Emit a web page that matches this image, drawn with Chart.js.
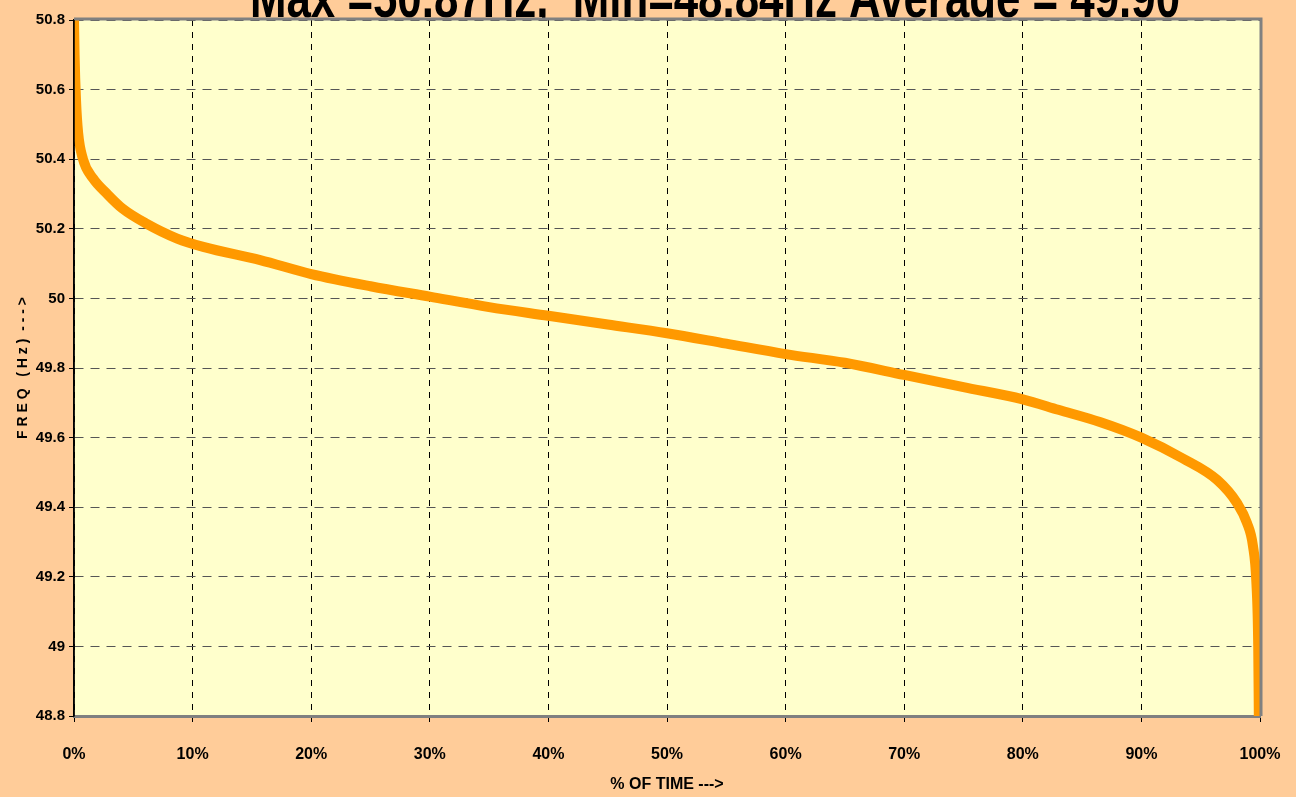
<!DOCTYPE html>
<html>
<head>
<meta charset="utf-8">
<script src="https://cdn.jsdelivr.net/npm/chart.js@4/dist/chart.umd.min.js"></script>
<style>
  html, body { margin: 0; padding: 0; background: #FFCC99; }
  canvas { display: block; }
</style>
</head>
<body>
<canvas id="graficoFreq" width="1296" height="797"></canvas>
<script>
// dados (curva de duração da frequência)
const tempoPct = [0, 0.05, 0.17, 0.35, 0.76, 1.6, 2.8, 4.1, 6.1, 8.7, 10.9, 15.7, 20, 25, 30, 35, 40,
  45, 50, 55, 60, 65, 70, 75, 80, 83, 86.5, 90, 93.5, 96.4, 98.1, 98.9, 99.4, 99.7, 99.85, 99.9];
const freqHz = [50.8, 50.7, 50.57, 50.475, 50.4, 50.345, 50.3, 50.258, 50.215, 50.172, 50.148, 50.11, 50.07, 50.035, 50.005, 49.975, 49.95,
  49.925, 49.9, 49.87, 49.84, 49.815, 49.78, 49.745, 49.71, 49.68, 49.645, 49.6, 49.54, 49.478, 49.41, 49.355, 49.29, 49.18, 49.0, 48.8];
const ticksY = [48.8, 49, 49.2, 49.4, 49.6, 49.8, 50, 50.2, 50.4, 50.6, 50.8];
const ticksX = [0, 10, 20, 30, 40, 50, 60, 70, 80, 90, 100];
const titulo = "Max =50.87Hz,  Min=48.84Hz Average = 49.90";

const fonte = "'Liberation Sans', Arial, sans-serif";

// título, fundo e moldura da área do gráfico (estilo Excel)
const areaPlot = {
  id: "areaPlot",
  beforeDraw(chart) {
    const { ctx, chartArea: a } = chart;
    ctx.save();
    // título (cortado no topo e tapado pela área, como no original)
    ctx.fillStyle = "#000";
    ctx.font = "bold 58px " + fonte;
    ctx.textAlign = "center";
    ctx.textBaseline = "alphabetic";
    const w = ctx.measureText(titulo).width;
    ctx.translate(715, 17);
    ctx.scale(930 / w, 1);
    ctx.fillText(titulo, 0, 0);
    ctx.restore();
    ctx.save();
    ctx.fillStyle = "#FFFFCC";
    ctx.fillRect(a.left, a.top, a.right - a.left, a.bottom - a.top);
    ctx.restore();
  },
  afterDraw(chart) {
    const { ctx, chartArea: a } = chart;
    ctx.save();
    ctx.setLineDash([]);
    ctx.strokeStyle = "#808080";
    ctx.lineWidth = 3;
    ctx.beginPath();
    ctx.moveTo(a.left, a.top - 1);
    ctx.lineTo(a.right + 1, a.top - 1);
    ctx.lineTo(a.right + 1, a.bottom);
    ctx.stroke();
    ctx.strokeStyle = "#000";
    ctx.lineWidth = 1.5;
    ctx.beginPath();
    ctx.moveTo(a.left, a.top);
    ctx.lineTo(a.left, a.bottom);
    ctx.stroke();
    ctx.restore();
  }
};

const ctx = document.getElementById("graficoFreq").getContext("2d");

new Chart(ctx, {
  type: "line",
  data: {
    datasets: [
      {
        data: tempoPct.map((t, i) => ({ x: t, y: freqHz[i] })),
        borderColor: "#FF9900",
        borderWidth: 10,
        pointRadius: 0,
        fill: false,
        cubicInterpolationMode: "monotone",
      },
    ],
  },
  options: {
    responsive: false,
    animation: false,
    layout: { padding: { left: 10, right: 36, top: 20, bottom: 0 } },
    plugins: {
      legend: { display: false },
      tooltip: { enabled: false },
    },
    scales: {
      x: {
        type: "linear",
        min: 0,
        max: 100,
        afterBuildTicks: (s) => { s.ticks = ticksX.map((v) => ({ value: v })); },
        afterFit: (s) => { s.height = 81; s.paddingLeft = 0; s.paddingRight = 0; },
        ticks: {
          padding: 23,
          color: "#000",
          font: { family: fonte, size: 16, weight: "bold" },
          callback: (v) => v + "%",
        },
        grid: {
          color: "#000",
          lineWidth: 1,
          tickLength: 6,
          tickColor: "#000",
        },
        border: { display: true, color: "#808080", width: 3, dash: [6, 6] },
        title: {
          display: true,
          text: "% OF TIME --->",
          color: "#000",
          font: { family: fonte, size: 16, weight: "bold" },
          padding: { top: 0, bottom: 3 },
        },
      },
      y: {
        min: 48.8,
        max: 50.8,
        afterBuildTicks: (s) => { s.ticks = ticksY.map((v) => ({ value: v })); },
        afterFit: (s) => { s.width = 64; },
        ticks: {
          padding: 4,
          color: "#000",
          font: { family: fonte, size: 15, weight: "bold" },
          callback: (v) => parseFloat(Number(v).toFixed(1)).toString(),
        },
        grid: {
          color: "#555",
          lineWidth: 1,
          tickLength: 5,
          tickColor: "#000",
        },
        border: { display: true, color: "#000", width: 1.5, dash: [9, 7] },
        title: {
          display: true,
          text: "F R E Q   ( H z )  - - - >",
          color: "#000",
          font: { family: fonte, size: 14, weight: "bold" },
          padding: { top: 5, bottom: 4 },
        },
      },
    },
  },
  plugins: [areaPlot],
});
</script>
</body>
</html>
